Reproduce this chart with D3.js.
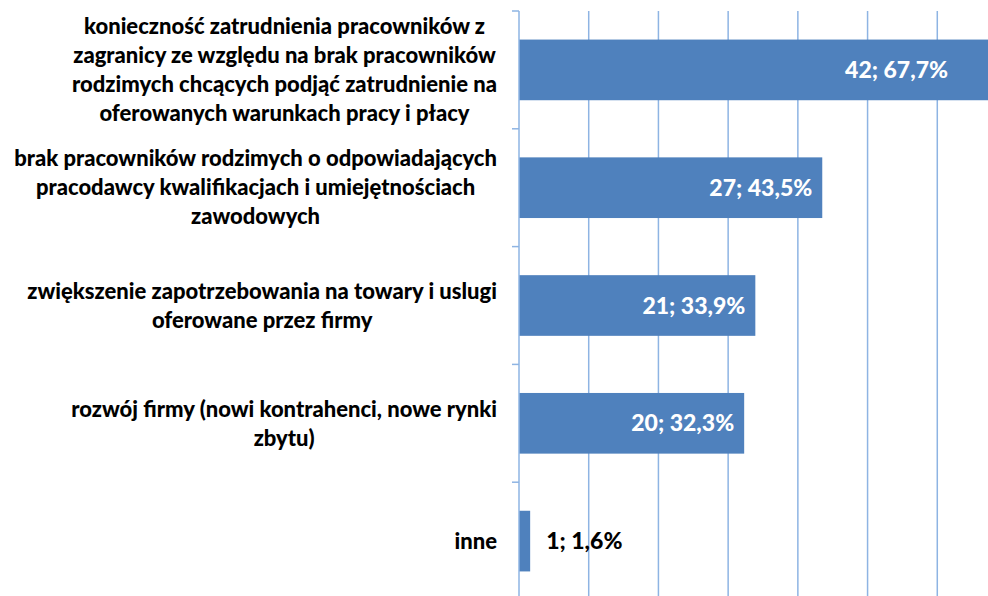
<!DOCTYPE html>
<html>
<head>
<meta charset="utf-8">
<script src="https://cdn.jsdelivr.net/npm/d3@7"></script>
<style>
  body { margin: 0; background: #fff; }
  svg { display: block; }
  text { font-family: Lato, "Open Sans", sans-serif; font-weight: 900; }
</style>
</head>
<body>
<svg id="chart" width="988" height="596"></svg>
<script>
// category labels, already split into the lines shown in the chart
var categoryLines = [
    ['konieczność zatrudnienia pracowników z', 'zagranicy ze względu na brak pracowników', 'rodzimych chcących podjąć zatrudnienie na', 'oferowanych warunkach pracy i płacy'],
    ['brak pracowników rodzimych o odpowiadających', 'pracodawcy kwalifikacjach i umiejętnościach', 'zawodowych'],
    ['zwiększenie zapotrzebowania na towary i uslugi', 'oferowane przez firmy'],
    ['rozwój firmy (nowi kontrahenci, nowe rynki', 'zbytu)'],
    ['inne']
];
var counts = [42, 27, 21, 20, 1];
var percents = [67.7, 43.5, 33.9, 32.3, 1.6];
var gridTicks = [10, 20, 30, 40, 50, 60, 70];

var W = 988, H = 596;
var svg = d3.select('#chart');

var xScale = d3.scaleLinear()
    .domain([0, 70])
    .range([519, 1007]);

var yScale = d3.scaleBand()
    .domain(d3.range(categoryLines.length))
    .range([11, 600])
    .paddingInner(0.485)
    .paddingOuter(0.2425);

var gridColor = '#8EB4E3';
var barColor = '#4F81BD';

// vertical gridlines
svg.append('g')
    .selectAll('line')
    .data(gridTicks)
    .enter()
    .append('line')
    .attr('x1', function (d) { return xScale(d); })
    .attr('x2', function (d) { return xScale(d); })
    .attr('y1', 11)
    .attr('y2', 600)
    .style('stroke', gridColor)
    .style('stroke-width', 1.5);

// bars
svg.append('g')
    .selectAll('rect')
    .data(percents)
    .enter()
    .append('rect')
    .attr('x', xScale(0))
    .attr('y', function (d, i) { return yScale(i); })
    .attr('width', function (d) { return xScale(d) - xScale(0); })
    .attr('height', yScale.bandwidth())
    .style('fill', barColor);

// category axis: line + ticks between categories
var step = yScale.step();
var axis = svg.append('g');
axis.append('line')
    .attr('x1', xScale(0)).attr('x2', xScale(0))
    .attr('y1', 11).attr('y2', 600)
    .style('stroke', gridColor)
    .style('stroke-width', 1.5);
axis.selectAll('.tick')
    .data(d3.range(categoryLines.length + 1))
    .enter()
    .append('line')
    .attr('class', 'tick')
    .attr('x1', xScale(0) - 7).attr('x2', xScale(0))
    .attr('y1', function (d) { return 11 + d * step; })
    .attr('y2', function (d) { return 11 + d * step; })
    .style('stroke', gridColor)
    .style('stroke-width', 1.5);

// category labels: block right edge at 497, lines centred in the block
var lineH = 29;
var labelRight = 497;
categoryLines.forEach(function (lines, i) {
    var cy = yScale(i) + yScale.bandwidth() / 2;
    var g = svg.append('g');
    var texts = g.selectAll('text')
        .data(lines)
        .enter()
        .append('text')
        .attr('y', function (d, j) { return cy + (j - (lines.length - 1) / 2) * lineH; })
        .attr('dy', '0.35em')
        .attr('text-anchor', 'middle')
        .style('font-size', '22px')
        .style('fill', '#000')
        .text(function (d) { return d; });
    var maxW = d3.max(texts.nodes(), function (n) { return n.getComputedTextLength(); });
    texts.attr('x', labelRight - maxW / 2);
});

// data labels
svg.append('g')
    .selectAll('text')
    .data(percents)
    .enter()
    .append('text')
    .attr('x', function (d) {
        if (xScale(d) - xScale(0) < 40) return xScale(d) + 16;
        return Math.min(xScale(d) - 10, W - 40);
    })
    .attr('y', function (d, i) { return yScale(i) + yScale.bandwidth() / 2; })
    .attr('dy', '0.35em')
    .attr('text-anchor', function (d) { return xScale(d) - xScale(0) < 40 ? 'start' : 'end'; })
    .style('font-size', '23px')
    .style('fill', function (d) { return xScale(d) - xScale(0) < 40 ? '#000' : '#fff'; })
    .text(function (d, i) { return counts[i] + '; ' + String(d).replace('.', ',') + '%'; });
</script>
</body>
</html>
